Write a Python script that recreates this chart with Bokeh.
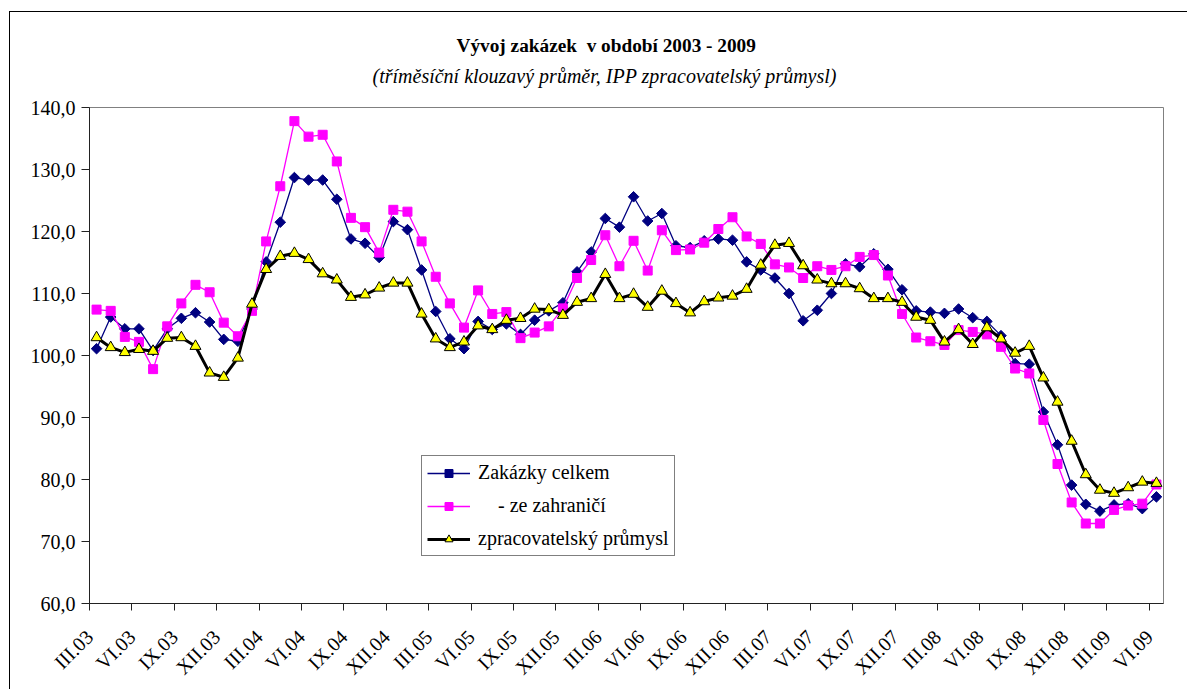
import math
from bokeh.plotting import figure
from bokeh.models import Range1d, FixedTicker, Legend, LegendItem, Title
from bokeh.embed import file_html
from bokeh.resources import INLINE

# ---------------- data ----------------
tick_labels = ["III.03", "VI.03", "IX.03", "XII.03",
               "III.04", "VI.04", "IX.04", "XII.04",
               "III.05", "VI.05", "IX.05", "XII.05",
               "III.06", "VI.06", "IX.06", "XII.06",
               "III.07", "VI.07", "IX.07", "XII.07",
               "III.08", "VI.08", "IX.08", "XII.08",
               "III.09", "VI.09"]

y_ticks = [60, 70, 80, 90, 100, 110, 120, 130, 140]
y_tick_labels = ["60,0", "70,0", "80,0", "90,0", "100,0", "110,0", "120,0", "130,0", "140,0"]

celkem = [101.1, 106.2, 104.3, 104.3, 100.8, 104.3, 106.0, 106.9, 105.4, 102.6,
          102.3, 107.5, 115.1, 121.5, 128.7, 128.3, 128.3, 125.2, 118.8, 118.1,
          115.8, 121.6, 120.3, 113.8, 107.1, 102.7, 101.1, 105.5, 104.2, 105.1,
          103.4, 105.7, 107.2, 108.5, 113.5, 116.7, 122.1, 120.7, 125.6, 121.7,
          122.9, 117.7, 117.4, 118.5, 118.8, 118.6, 115.1, 113.8, 112.5, 110.0,
          105.6, 107.3, 110.0, 114.8, 114.3, 116.4, 113.9, 110.6, 107.2, 107.0,
          106.8, 107.5, 106.1, 105.5, 103.2, 98.7, 98.6, 90.9, 85.6, 79.1,
          76.0, 74.9, 75.9, 76.1, 75.3, 77.2]

zahranici = [107.4, 107.2, 103.0, 102.2, 97.8, 104.7, 108.4, 111.4, 110.2, 105.3,
             103.1, 107.2, 118.4, 127.3, 137.8, 135.3, 135.6, 131.3, 122.2, 120.7,
             116.6, 123.5, 123.2, 118.4, 112.7, 108.4, 104.5, 110.5, 106.7, 107.0,
             102.8, 103.7, 104.7, 107.6, 112.5, 115.4, 119.4, 114.4, 118.5, 113.7,
             120.2, 117.0, 117.1, 118.2, 120.4, 122.3, 119.2, 118.0, 114.7, 114.2,
             112.5, 114.4, 113.8, 114.4, 115.9, 116.2, 112.9, 106.7, 102.9, 102.3,
             101.7, 104.1, 103.8, 103.4, 101.4, 97.9, 97.1, 89.6, 82.5, 76.3,
             72.9, 72.9, 75.1, 75.8, 76.1, 79.2]

prumysl = [102.9, 101.3, 100.5, 101.0, 100.7, 102.8, 102.9, 101.5, 97.2, 96.5,
           99.6, 108.3, 113.9, 116.0, 116.5, 115.5, 113.2, 112.2, 109.4, 109.8,
           110.9, 111.7, 111.7, 106.7, 102.7, 101.3, 102.2, 104.8, 104.2, 105.7,
           106.0, 107.5, 107.4, 106.5, 108.6, 109.2, 113.1, 109.2, 109.9, 107.8,
           110.4, 108.4, 106.9, 108.7, 109.3, 109.6, 110.7, 114.6, 117.8, 118.1,
           114.5, 112.2, 111.6, 111.6, 110.8, 109.2, 109.2, 108.6, 106.2, 105.7,
           102.2, 104.2, 101.8, 104.5, 102.7, 100.4, 101.5, 96.4, 92.5, 86.2,
           80.8, 78.3, 77.8, 78.7, 79.6, 79.4]

series_names = ["Zakázky celkem", "\u00a0\u00a0\u00a0\u00a0- ze zahraničí", "zpracovatelský průmysl"]

# ---------------- figure ----------------
n = len(celkem)
xs = [i + 0.5 for i in range(n)]
label_every = 3
boundary_ticks = [k * label_every for k in range(len(tick_labels))]
label_pos = list(boundary_ticks)

FONT = "Liberation Serif"

p = figure(width=1178, height=678, output_backend="svg", toolbar_location=None,
           title=None,
           x_range=Range1d(0, n), y_range=Range1d(60, 140),
           min_border_left=79, min_border_right=25,
           min_border_top=95, min_border_bottom=87)
p.styles = {"border-left": "1px solid black", "border-top": "1px solid black"}
p.margin = (11, 0, 0, 9)

p.background_fill_color = "white"
p.border_fill_color = "white"
p.outline_line_color = "#808080"
p.outline_line_width = 1
p.xgrid.visible = False
p.ygrid.visible = False

# y axis
p.yaxis.ticker = FixedTicker(ticks=y_ticks)
p.yaxis.major_label_overrides = dict(zip(y_ticks, y_tick_labels))
p.yaxis.major_tick_out = 8
p.yaxis.major_tick_in = 0
p.yaxis.minor_tick_line_color = None
p.yaxis.axis_line_color = "#222222"
p.yaxis.major_tick_line_color = "#222222"
p.yaxis.major_label_text_font = FONT
p.yaxis.major_label_text_font_size = "20px"
p.yaxis.major_label_text_color = "black"
p.yaxis.major_label_standoff = 6

# x axis
p.xaxis.ticker = FixedTicker(ticks=label_pos, minor_ticks=boundary_ticks)
p.xaxis.major_label_overrides = dict(zip(label_pos, tick_labels))
p.xaxis.major_tick_line_color = None
p.xaxis.major_tick_out = 0
p.xaxis.major_tick_in = 0
p.xaxis.minor_tick_line_color = "#222222"
p.xaxis.minor_tick_out = 7
p.xaxis.minor_tick_in = 0
p.xaxis.axis_line_color = "#222222"
p.xaxis.major_label_orientation = math.pi / 4
p.xaxis.major_label_text_font = FONT
p.xaxis.major_label_text_font_size = "20px"
p.xaxis.major_label_text_color = "black"
p.xaxis.major_label_standoff = 23

# series
l1 = p.line(xs, celkem, line_color="#000080", line_width=1.3)
m1 = p.scatter(xs, celkem, marker="square", angle=math.pi / 4, size=7.5,
               fill_color="#000080", line_color="#000080")
l2 = p.line(xs, zahranici, line_color="#FF00FF", line_width=1.3)
m2 = p.scatter(xs, zahranici, marker="square", size=9,
               fill_color="#FF00FF", line_color="#FF00FF")
l3 = p.line(xs, prumysl, line_color="black", line_width=3)
m3 = p.scatter(xs, prumysl, marker="triangle", size=11,
               fill_color="#FFFF00", line_color="black", line_width=1)

legend = Legend(items=[LegendItem(label=series_names[0], renderers=[l1, m1]),
                       LegendItem(label=series_names[1], renderers=[l2, m2]),
                       LegendItem(label=series_names[2], renderers=[l3, m3])],
                location=(332, 47),
                border_line_color="black", border_line_width=1,
                background_fill_color="white", background_fill_alpha=1,
                label_text_font=FONT, label_text_font_size="20px",
                label_text_color="black",
                glyph_width=43, glyph_height=20, label_height=20,
                spacing=10, padding=5, margin=0, label_standoff=8)
p.add_layout(legend)

sub = Title(text="(tříměsíční klouzavý průměr, IPP zpracovatelský průmysl)",
            text_font=FONT, text_font_style="italic", text_font_size="20px",
            text_color="black", align="left", offset=283, standoff=42)
main = Title(text="Vývoj zakázek\u00a0 v období 2003 - 2009",
             text_font=FONT, text_font_style="bold", text_font_size="19.3px",
             text_color="black", align="left", offset=367, standoff=-29)
p.add_layout(sub, "above")
p.add_layout(main, "above")

open("out.html", "w").write(file_html(p, INLINE))
